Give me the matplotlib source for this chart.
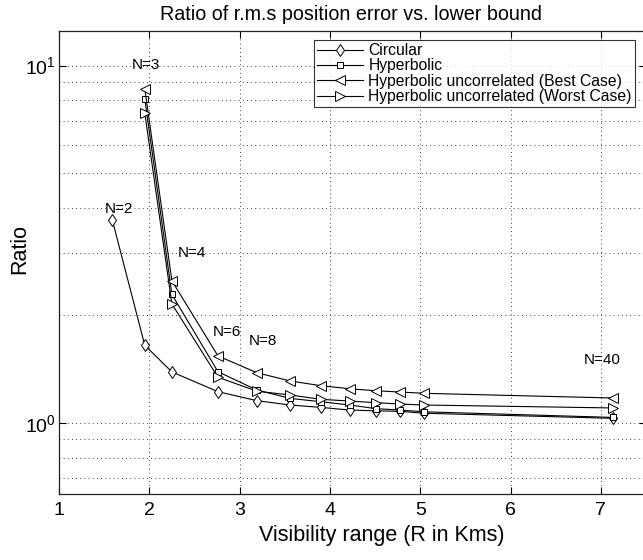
import matplotlib
matplotlib.use("Agg")
import matplotlib.pyplot as plt
from matplotlib.ticker import FixedLocator, NullFormatter, LogLocator

plt.rcParams['font.family'] = ['Liberation Sans', 'DejaVu Sans']
plt.rcParams['mathtext.fontset'] = 'custom'
plt.rcParams['mathtext.rm'] = 'Liberation Sans'
plt.rcParams['mathtext.it'] = 'Liberation Sans'
plt.rcParams['mathtext.default'] = 'regular'

# Visibility range for N = 2,3,4,6,8,10,12,14,16,18,20,40
range_circ = [1.59, 1.95, 2.25, 2.76, 3.19, 3.56, 3.90, 4.22, 4.51, 4.78, 5.04, 7.13]
range_hyp = [1.95, 2.25, 2.76, 3.19, 3.56, 3.90, 4.22, 4.51, 4.78, 5.04, 7.13]

circular = [3.70, 1.65, 1.39, 1.224, 1.155, 1.123, 1.106, 1.087, 1.082, 1.078, 1.065, 1.031]
hyperbolic = [8.07, 2.29, 1.392, 1.237, 1.172, 1.147, 1.123, 1.097, 1.087, 1.075, 1.037]
hyp_best = [8.61, 2.50, 1.541, 1.383, 1.311, 1.272, 1.247, 1.231, 1.221, 1.211, 1.175]
hyp_worst = [7.37, 2.154, 1.343, 1.228, 1.198, 1.165, 1.152, 1.140, 1.130, 1.123, 1.102]

n_labels = ['N=2', 'N=3', 'N=4', 'N=6', 'N=8', 'N=40']
n_label_x = [1.66, 1.96, 2.47, 2.865, 3.262, 7.02]
n_label_y = [3.98, 10.05, 3.00, 1.80, 1.70, 1.50]

legend_labels = ['Circular', 'Hyperbolic',
                 'Hyperbolic uncorrelated (Best Case)',
                 'Hyperbolic uncorrelated (Worst Case)']

fig = plt.figure(figsize=(6.43, 5.60), dpi=100)
W, H = 643, 560
left, right, top, bottom = 59, 646, 31, 494
ax = fig.add_axes([left / W, 1 - bottom / H, (right - left) / W, (bottom - top) / H])

lw = 0.8
ms = 6.5
common = dict(color='black', linewidth=lw, markerfacecolor='white',
              markeredgecolor='black', markeredgewidth=0.7, markersize=ms)
ax.plot(range_circ, circular, marker='d', label=legend_labels[0], **common)
ax.plot(range_hyp, hyperbolic, marker='s', label=legend_labels[1],
        **{**common, 'markersize': 5})
ax.plot(range_hyp, hyp_best, marker='<', label=legend_labels[2], **common)
ax.plot(range_hyp, hyp_worst, marker='>', label=legend_labels[3], **common)

for t, x, y in zip(n_labels, n_label_x, n_label_y):
    ax.text(x, y, t, ha='center', va='center', fontsize=11)

ax.set_yscale('log')
ax.set_xlim(1, 7.5)
ax.set_ylim(0.633, 12.5)
ax.set_xticks([1, 2, 3, 4, 5, 6, 7])
ax.set_xticklabels(['1', '2', '3', '4', '5', '6', '7'])
ax.yaxis.set_major_locator(FixedLocator([1, 10]))
ax.set_yticklabels(['$10^0$', '$10^1$'])
ax.yaxis.set_minor_locator(LogLocator(base=10, subs=range(2, 10)))
ax.yaxis.set_minor_formatter(NullFormatter())

ax.tick_params(which='major', direction='in', length=5, width=0.8,
               top=True, right=True, labelsize=14)
ax.tick_params(axis='x', which='major', pad=6)
ax.tick_params(axis='y', which='major', pad=2)
ax.tick_params(which='minor', direction='in', length=0, top=True, right=True)

ax.grid(True, which='major', axis='both', linestyle=(0, (1, 4)), color='black', linewidth=0.6)
ax.grid(True, which='minor', axis='y', linestyle=(0, (1, 4)), color='black', linewidth=0.6)

for s in ax.spines.values():
    s.set_linewidth(0.9)
    s.set_color('#222222')

fig.text(381.5 / W, 1 - 536 / H, 'Visibility range (R in Kms)',
         ha='center', va='center', fontsize=15.5)
fig.text(20 / W, 1 - 249 / H, 'Ratio', rotation=90,
         ha='center', va='center', fontsize=15.5)
fig.text(351.5 / W, 1 - 14 / H, 'Ratio of r.m.s position error vs. lower bound',
         ha='center', va='center', fontsize=14.2)

leg = ax.legend(loc='upper right', bbox_to_anchor=((635 - left) / (right - left), 1 - (40 - top) / (bottom - top)),
                fontsize=11.3, frameon=True, fancybox=False, edgecolor='black',
                borderpad=0.2, labelspacing=0.02, handlelength=2.9, handletextpad=0.35,
                borderaxespad=0)
leg.get_frame().set_linewidth(0.8)

fig.savefig('out.png', dpi=100)
